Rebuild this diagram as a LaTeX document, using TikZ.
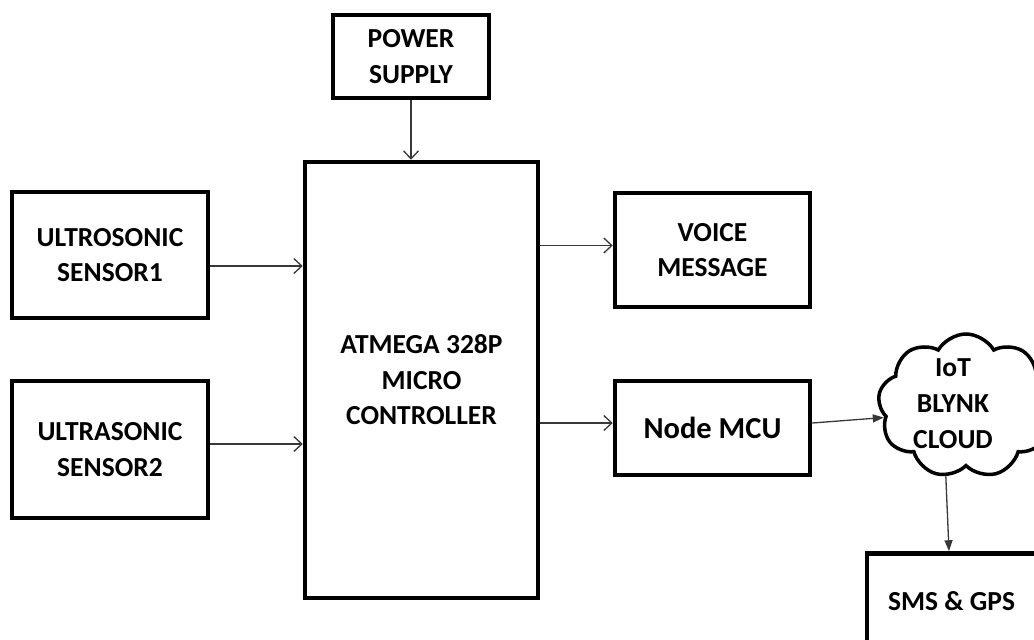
\documentclass[tikz,border=0pt]{standalone}
\usepackage{fontspec}
\setmainfont{Carlito}
\usetikzlibrary{arrows.meta,shapes.symbols,calc}
\definecolor{arrgray}{HTML}{383838}
\begin{document}
\begin{tikzpicture}[x=1pt,y=-1pt,
  blk/.style={draw=black, line width=4.5pt, inner sep=0pt, align=center,
    font=\bfseries\fontsize{27.5}{35.5}\selectfont},
  arr/.style={draw=arrgray, line width=1.3pt, -{Straight Barb[length=8pt,width=15pt,line width=1.3pt]}},
  farr/.style={draw=arrgray, line width=1.3pt, -{Triangle[length=11pt,width=8pt]}}]
\useasboundingbox (0,0) rectangle (1034,640);
\clip (0,0) rectangle (1034,640);
\fill[white] (0,0) rectangle (1034,640);

\node[blk, minimum width=156pt, minimum height=83pt] (pwr) at (411,56.5) {POWER\\SUPPLY};
\node[blk, minimum width=233pt, minimum height=436pt] (mcu) at (421.5,380) {ATMEGA 328P\\MICRO\\CONTROLLER};
\node[blk, minimum width=196pt, minimum height=126pt] (s1) at (110,255) {ULTROSONIC\\SENSOR1};
\node[blk, minimum width=196pt, minimum height=137pt] (s2) at (110,449.5) {ULTRASONIC\\SENSOR2};
\node[blk, minimum width=195pt, minimum height=114pt] (voice) at (712.5,250) {VOICE\\MESSAGE};
\node[blk, minimum width=195pt, minimum height=94pt, font=\bfseries\fontsize{30.5}{36}\selectfont] (nmcu) at (712.5,428) {Node MCU};
\node[blk, minimum width=169pt, minimum height=95pt] (sms) at (951.5,601) {SMS \& GPS};
\node[cloud, draw=black, line width=3.5pt, cloud puffs=9, cloud puff arc=120,
  cloud ignores aspect, minimum width=176pt, minimum height=144pt, inner sep=0pt] (cloud) at (966,406) {};
\node[align=center, inner sep=0pt, font=\bfseries\fontsize{27.5}{36}\selectfont] (cloudtxt) at (953,404) {IoT\\BLYNK\\CLOUD};

\coordinate (s1in) at ($(s1.east)+(0,11)$);
\coordinate (s2in) at ($(s2.east)+(0,-5.5)$);
\coordinate (vin) at ($(voice.west)+(0,-4.5)$);
\coordinate (nin) at ($(nmcu.west)+(0,-5)$);
\coordinate (nout) at ($(nmcu.east)+(0,-5)$);
\coordinate (smsin) at ($(sms.north)+(-2.5,0)$);

\draw[arr] (pwr.south) -- (pwr.south |- mcu.north);
\draw[arr] (s1in) -- (s1in -| mcu.west);
\draw[arr] (s2in) -- (s2in -| mcu.west);
\draw[arr] (vin -| mcu.east) -- (vin);
\draw[arr] (nin -| mcu.east) -- (nin);
\draw[farr] (nout) -- (cloud.188);
\draw[farr] (cloud.254) -- (smsin);
\end{tikzpicture}
\end{document}
